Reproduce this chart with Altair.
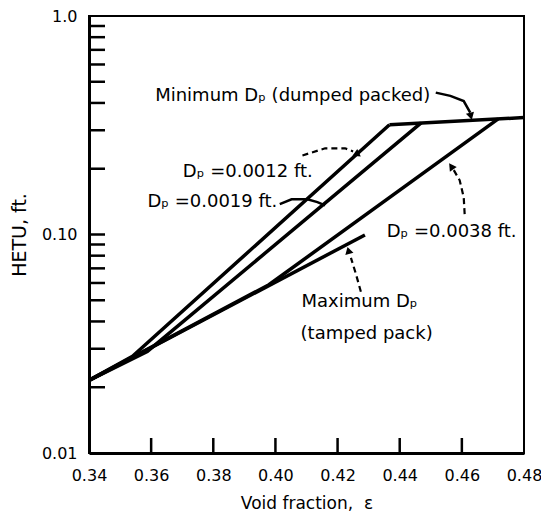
import altair as alt
import pandas as pd

# ---------------- data ----------------
x_tick_values = [0.34, 0.36, 0.38, 0.40, 0.42, 0.44, 0.46, 0.48]
y_label_values = [0.01, 0.1, 1.0]
y_minor_values = [0.02, 0.03, 0.04, 0.05, 0.06, 0.07, 0.08, 0.09, 0.10,
                  0.2, 0.3, 0.4, 0.5, 0.6, 0.7, 0.8, 0.9]
x_minor_values = [0.36, 0.38, 0.40, 0.42, 0.44, 0.46]

# curves (void fraction, HETU ft)
dp0012_x = [0.340, 0.354, 0.4367]
dp0012_y = [0.0215, 0.0277, 0.318]
dp0019_x = [0.340, 0.3588, 0.4469]
dp0019_y = [0.0215, 0.0292, 0.324]
dp0038_x = [0.340, 0.3979, 0.4717]
dp0038_y = [0.0215, 0.0589, 0.338]
maxdp_x = [0.340, 0.4288]
maxdp_y = [0.0215, 0.0995]
mindp_x = [0.4367, 0.480]
mindp_y = [0.318, 0.343]

# annotation texts (left x, middle y)
label_text = ["Minimum Dₚ (dumped packed)", "Dₚ =0.0012 ft.", "Dₚ =0.0019 ft.",
              "Dₚ =0.0038 ft.", "Maximum Dₚ", "(tamped pack)"]
label_x = [0.3613, 0.3702, 0.3588, 0.4358, 0.4084, 0.4081]
label_y = [0.432, 0.193, 0.1406, 0.1026, 0.0493, 0.0352]

# annotation arrows
arrow_min_x = [0.4516, 0.4563, 0.4606, 0.4627]
arrow_min_y = [0.446, 0.431, 0.408, 0.361]
arrow_0012_x = [0.4087, 0.4160, 0.4224, 0.4250]
arrow_0012_y = [0.230, 0.248, 0.248, 0.240]
arrow_0019_x = [0.4014, 0.4052, 0.4103, 0.4135, 0.4160]
arrow_0019_y = [0.1377, 0.145, 0.145, 0.1406, 0.136]
arrow_0038_x = [0.4609, 0.4606, 0.4593, 0.4574]
arrow_0038_y = [0.124, 0.148, 0.177, 0.197]
arrow_max_x = [0.4275, 0.4259, 0.4243]
arrow_max_y = [0.0547, 0.066, 0.0782]

head_x = [0.4628, 0.4262, 0.4568, 0.4236]
head_y = [0.352, 0.234, 0.203, 0.0835]
head_angle = [165, 125, 325, 345]

# ---------------- build tables ----------------
def series(name, xs, ys):
    return pd.DataFrame({"series": name, "x": xs, "y": ys, "order": list(range(len(xs)))})

curves = pd.concat([
    series("Dp=0.0012", dp0012_x, dp0012_y),
    series("Dp=0.0019", dp0019_x, dp0019_y),
    series("Dp=0.0038", dp0038_x, dp0038_y),
    series("Maximum Dp", maxdp_x, maxdp_y),
    series("Minimum Dp", mindp_x, mindp_y),
])
solid_arrows = pd.concat([
    series("a_min", arrow_min_x, arrow_min_y),
    series("a_0019", arrow_0019_x, arrow_0019_y),
])
dashed_arrows = pd.concat([
    series("a_0012", arrow_0012_x, arrow_0012_y),
    series("a_0038", arrow_0038_x, arrow_0038_y),
    series("a_max", arrow_max_x, arrow_max_y),
])
labels = pd.DataFrame({"text": label_text, "x": label_x, "y": label_y})
heads = pd.DataFrame({"x": head_x, "y": head_y, "angle": head_angle})
yticks = pd.DataFrame({"x": [0.34] * len(y_minor_values), "y": y_minor_values})
xticks = pd.DataFrame({"x": x_minor_values, "y": [0.01] * len(x_minor_values)})

W, H = 435, 437
FONT = "DejaVu Sans"

xscale = alt.Scale(domain=[0.34, 0.48], nice=False, zero=False)
yscale = alt.Scale(type="log", domain=[0.01, 1.0], nice=False)

x_axis = alt.Axis(values=x_tick_values, format=".2f", ticks=False,
                  labelPadding=14, labelFontSize=16, labelFont=FONT, labelColor="black",
                  labelOverlap=False, labelFlush=False, grid=False,
                  domainColor="black", domainWidth=3,
                  titleFont=FONT, titleFontSize=17,
                  titleFontWeight="normal", titleColor="black", titlePadding=12)
y_axis = alt.Axis(values=y_label_values, ticks=False,
                  labelExpr="datum.value >= 1 ? '1.0' : format(datum.value, '.2f')",
                  labelPadding=12, labelFontSize=16, labelFont=FONT, labelColor="black",
                  labelOverlap=False, labelFlush=False, grid=False,
                  domainColor="black", domainWidth=3,
                  titleFont=FONT, titleFontSize=19,
                  titleFontWeight="normal", titleColor="black", titlePadding=12)

X_T = "Void fraction,\u00a0\u00a0ε"
Y_T = "HETU, ft."


def xenc():
    return alt.X("x:Q", scale=xscale, axis=x_axis, title=X_T)


def yenc():
    return alt.Y("y:Q", scale=yscale, axis=y_axis, title=Y_T)


lines = alt.Chart(curves).mark_line(color="black", strokeWidth=3.5, strokeJoin="round").encode(
    x=xenc(), y=yenc(), detail="series:N", order="order:Q",
)

ytick_layer = alt.Chart(yticks).mark_rule(color="black", strokeWidth=2.5).encode(
    y=yenc(), x=alt.value(0), x2=alt.value(16),
)
xtick_layer = alt.Chart(xticks).mark_rule(color="black", strokeWidth=2.5).encode(
    x=xenc(), y=alt.value(H - 15), y2=alt.value(H),
)

solid_layer = alt.Chart(solid_arrows).mark_line(color="black", strokeWidth=2.5).encode(
    x=xenc(), y=yenc(), detail="series:N", order="order:Q",
)
dashed_layer = alt.Chart(dashed_arrows).mark_line(color="black", strokeWidth=2.2,
                                                  strokeDash=[6, 4]).encode(
    x=xenc(), y=yenc(), detail="series:N", order="order:Q",
)
head_layer = alt.Chart(heads).mark_point(shape="triangle", filled=True, color="black",
                                         size=70, opacity=1).encode(
    x=xenc(), y=yenc(),
    angle=alt.Angle("angle:Q", scale=None),
)
text_layer = alt.Chart(labels).mark_text(align="left", baseline="middle", font=FONT,
                                         fontSize=18, color="black").encode(
    x=xenc(), y=yenc(), text="text:N",
)

chart = alt.layer(lines, ytick_layer, xtick_layer, solid_layer, dashed_layer,
                  head_layer, text_layer).properties(
    width=W, height=H,
    padding={"left": 81, "top": 8, "right": 17, "bottom": 60},
    autosize=alt.AutoSizeParams(type="none"),
    background="white",
).configure_view(stroke="black", strokeWidth=2)

chart.save("out.html", embed_options={"renderer": "svg", "actions": False})
